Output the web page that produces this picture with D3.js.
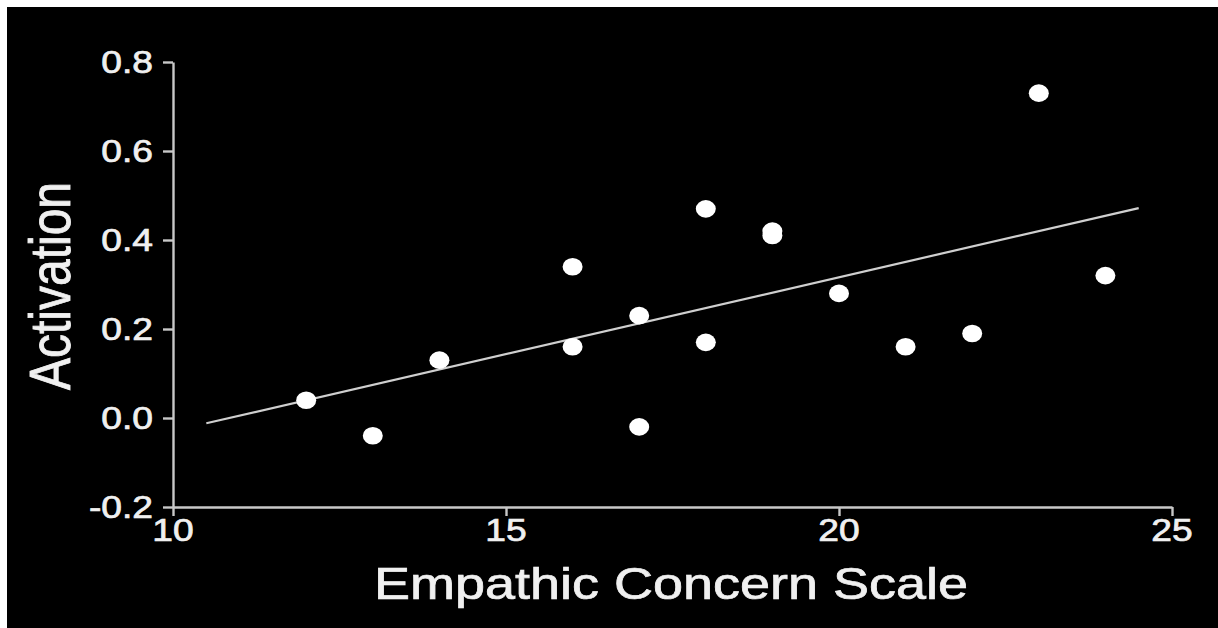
<!DOCTYPE html>
<html>
<head>
<meta charset="utf-8">
<script src="https://cdn.jsdelivr.net/npm/d3@7"></script>
<style>
  html, body { margin: 0; padding: 0; background: #fff; }
  svg { display: block; }
  text { font-family: "Liberation Sans", Arial, Helvetica, sans-serif; fill: #f0f0f0; stroke: #f0f0f0; stroke-width: 0.7px; }
</style>
</head>
<body>
<svg id="chart" width="1218" height="628"></svg>
<script>
// Empathic concern score per participant and the matching activation value
const empathicConcern = [12, 13, 14, 16, 16, 17, 17, 18, 18, 19, 19, 20, 21, 22, 23, 24];
const activation      = [0.04, -0.04, 0.13, 0.34, 0.16, 0.23, -0.02, 0.47, 0.17, 0.42, 0.41, 0.28, 0.16, 0.19, 0.73, 0.32];

const xTicks = [10, 15, 20, 25];
const xTickLabels = ["10", "15", "20", "25"];
const yTicks = [-0.2, 0.0, 0.2, 0.4, 0.6, 0.8];
const yTickLabels = ["-0.2", "0.0", "0.2", "0.4", "0.6", "0.8"];

const xTitle = "Empathic Concern Scale";
const yTitle = "Activation";

// Extent of the fitted line along the x axis
const fitRange = [10.5, 24.5];

const W = 1218, H = 628;
const stretch = 1.2;   // horizontal stretch applied to text and dots

const svg = d3.select("#chart");

// black panel framed by a thin white margin
svg.append("rect").attr("x", 7).attr("y", 7).attr("width", W - 7).attr("height", H - 7).attr("fill", "#000");

const x = d3.scaleLinear().domain([10, 25]).range([173, 1172]);
const y = d3.scaleLinear().domain([-0.2, 0.8]).range([507, 62]);

const axisColor = "#c8c8c8";

// y axis
const yAxis = svg.append("g")
  .attr("transform", `translate(${x(10)},0)`)
  .call(d3.axisLeft(y).tickValues(yTicks).tickSize(10).tickSizeOuter(0).tickFormat(() => ""));
// x axis
const xAxis = svg.append("g")
  .attr("transform", `translate(0,${y(-0.2)})`)
  .call(d3.axisBottom(x).tickValues(xTicks).tickSize(9).tickSizeOuter(0).tickFormat(() => ""));

[yAxis, xAxis].forEach(g => {
  g.selectAll("path.domain").attr("stroke", axisColor).attr("stroke-width", 2.4);
  g.selectAll(".tick line").attr("stroke", axisColor).attr("stroke-width", 2.4);
});

// tick labels, drawn horizontally stretched
svg.append("g").selectAll("text").data(yTicks).join("text")
  .attr("transform", d => `translate(153,${y(d) + 11}) scale(${stretch},1)`)
  .attr("text-anchor", "end")
  .attr("font-size", 31)
  .text((d, i) => yTickLabels[i]);

svg.append("g").selectAll("text").data(xTicks).join("text")
  .attr("transform", d => `translate(${x(d)},541) scale(${stretch},1)`)
  .attr("text-anchor", "middle")
  .attr("font-size", 31)
  .text((d, i) => xTickLabels[i]);

// axis titles
svg.append("text")
  .attr("transform", `translate(671,599) scale(${stretch},1)`)
  .attr("text-anchor", "middle")
  .attr("font-size", 45)
  .text(xTitle);

svg.append("text")
  .attr("transform", `translate(70,286) scale(${stretch},1) rotate(-90)`)
  .attr("text-anchor", "middle")
  .attr("font-size", 48)
  .text(yTitle);

// least-squares fit
const mx = d3.mean(empathicConcern), my = d3.mean(activation);
let sxy = 0, sxx = 0;
empathicConcern.forEach((v, i) => { sxy += (v - mx) * (activation[i] - my); sxx += (v - mx) * (v - mx); });
const slope = sxy / sxx, intercept = my - slope * mx;

svg.append("line")
  .attr("x1", x(fitRange[0])).attr("y1", y(intercept + slope * fitRange[0]))
  .attr("x2", x(fitRange[1])).attr("y2", y(intercept + slope * fitRange[1]))
  .attr("stroke", "#cfcfcf").attr("stroke-width", 2.2);

// data points
svg.append("g").selectAll("ellipse").data(empathicConcern).join("ellipse")
  .attr("cx", d => x(d))
  .attr("cy", (d, i) => y(activation[i]))
  .attr("rx", 10).attr("ry", 8.8)
  .attr("fill", "#fff");
</script>
</body>
</html>
